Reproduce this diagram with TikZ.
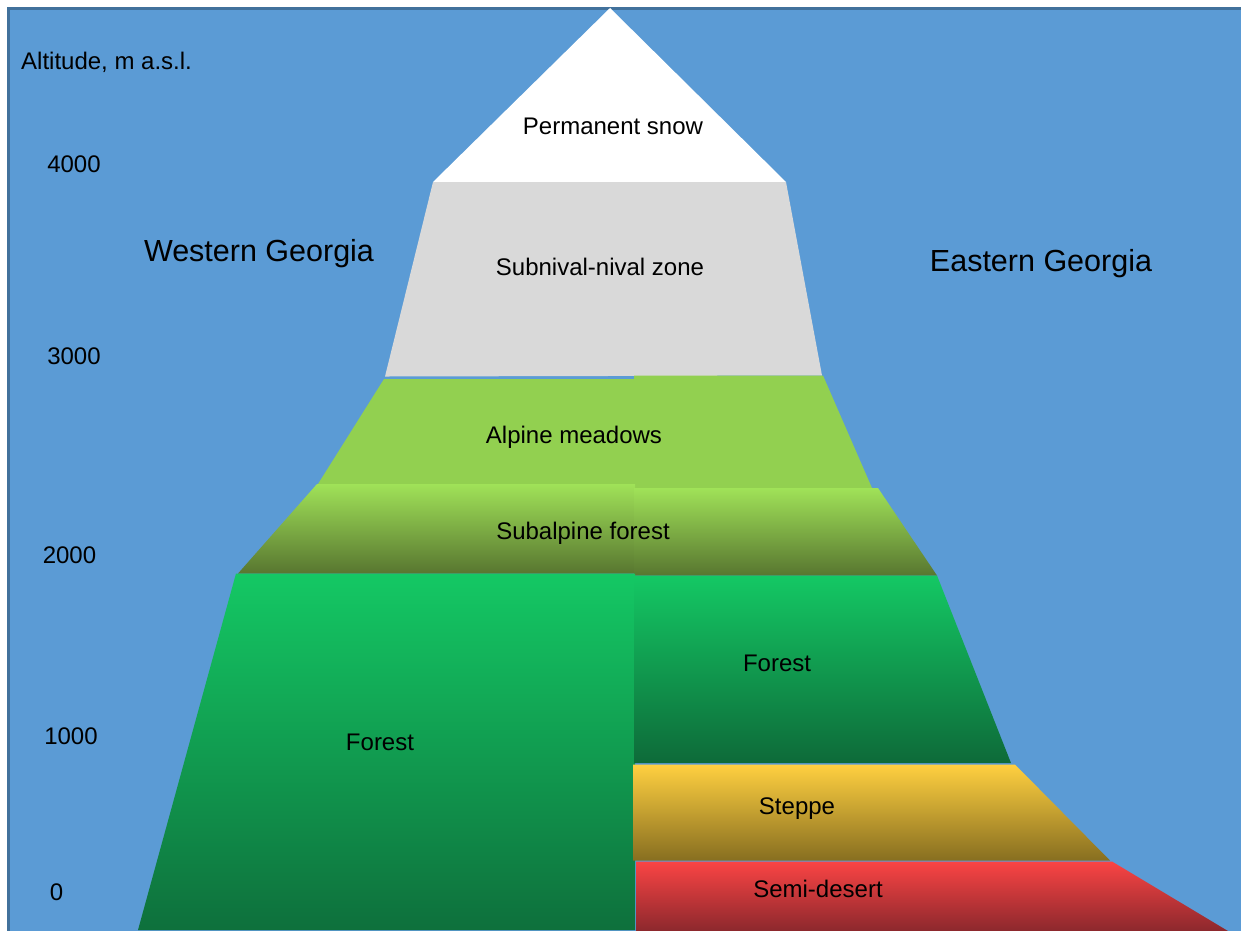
\documentclass[tikz,border=0pt]{standalone}
\usepackage{fontspec}
\setmainfont{Liberation Sans}
\definecolor{skyblue}{RGB}{91,155,213}
\definecolor{frameblue}{RGB}{65,113,156}
\definecolor{nival}{RGB}{217,217,217}
\definecolor{alpine}{RGB}{146,208,80}
\definecolor{subtop}{RGB}{160,226,88}
\definecolor{subbot}{RGB}{88,118,48}
\definecolor{fortop}{RGB}{20,200,100}
\definecolor{forbot}{RGB}{14,112,60}
\definecolor{stetop}{RGB}{255,208,64}
\definecolor{stebot}{RGB}{135,110,32}
\definecolor{semtop}{RGB}{250,68,68}
\definecolor{sembot}{RGB}{140,40,45}
\tikzset{
  lbl/.style={anchor=base, font=\fontsize{24}{28}\selectfont, inner sep=0pt},
  ttl/.style={anchor=base, font=\fontsize{30.5}{34}\selectfont, inner sep=0pt},
  axl/.style={anchor=base, font=\fontsize{24}{28}\selectfont, inner sep=0pt},
}
\begin{document}
\begin{tikzpicture}[x=1pt,y=-1pt]
\useasboundingbox (0,0) rectangle (1241,930);
% background
\fill[white] (0,0) rectangle (1241,930);
\fill[skyblue] (8.5,8.5) rectangle (1250,940);
\draw[frameblue, line width=3pt] (8.5,945) -- (8.5,8.5) -- (1250,8.5);
% snow
\fill[white] (610,8) -- (786,182) -- (433,182) -- cycle;
% subnival
\fill[nival] (433,182) -- (786,182) -- (822,375.5) -- (385,376.5) -- cycle;
% alpine meadows
\fill[alpine] (384,379) -- (635,379) -- (635,484) -- (318,484) -- cycle;
\fill[alpine] (634,375.5) -- (823,375.5) -- (872,488) -- (634,488) -- cycle;
% subalpine forest
\shade[top color=subtop, bottom color=subbot] (317,484) -- (635,484) -- (635,573.5) -- (238,573.5) -- cycle;
\shade[top color=subtop, bottom color=subbot] (634,488) -- (878,488) -- (937,575.5) -- (634,575.5) -- cycle;
% forest
\shade[top color=fortop, bottom color=forbot] (236,573.5) -- (635,573.5) -- (635,930) -- (138,930) -- cycle;
\shade[top color=fortop, bottom color=forbot!95!black] (634,575.5) -- (937,575.5) -- (1011,763) -- (634,763) -- cycle;
% steppe
\shade[top color=stetop, bottom color=stebot] (633,764.5) -- (1015,764.5) -- (1110,860.5) -- (633,860.5) -- cycle;
% semi-desert
\shade[top color=semtop, bottom color=sembot] (636,861.5) -- (1112,861.5) -- (1228,931) -- (636,931) -- cycle;
% labels
\node[axl, anchor=base west] (alt) at (21,69.5) {Altitude, m a.s.l.};
\node[axl] (a4000) at (74,172.5) {4000};
\node[axl] (a3000) at (74,364.5) {3000};
\node[axl] (a2000) at (69.5,563.5) {2000};
\node[axl] (a1000) at (71,744.5) {1000};
\node[axl] (a0) at (56.5,900.5) {0};
\node[ttl] (west) at (259,261) {Western Georgia};
\node[ttl] (east) at (1041,271) {Eastern Georgia};
\node[lbl] (snow) at (613,134.5) {Permanent snow};
\node[lbl] (subniv) at (600,275.5) {Subnival-nival zone};
\node[lbl] (alp) at (574,443.5) {Alpine meadows};
\node[lbl] (subalp) at (583,539.5) {Subalpine forest};
\node[lbl] (forw) at (380,750.5) {Forest};
\node[lbl] (fore) at (777,671.5) {Forest};
\node[lbl] (step) at (797,814.5) {Steppe};
\node[lbl] (semi) at (818,897.5) {Semi-desert};
\end{tikzpicture}
\end{document}
